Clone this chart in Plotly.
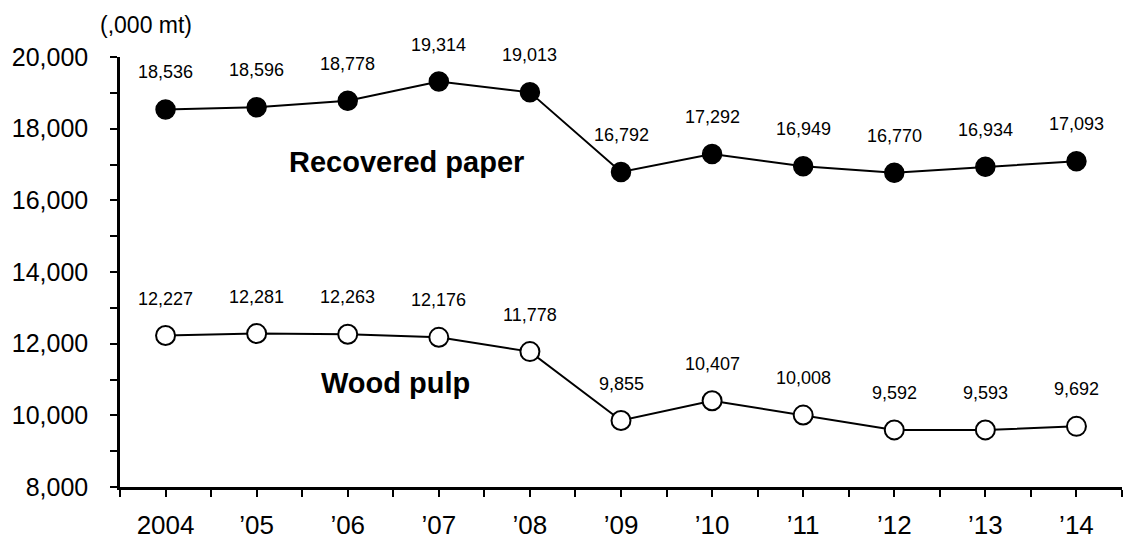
import plotly.graph_objects as go

years = ["2004", "\u201905", "\u201906", "\u201907", "\u201908", "\u201909", "\u201910", "\u201911", "\u201912", "\u201913", "\u201914"]
recovered_paper = [18536, 18596, 18778, 19314, 19013, 16792, 17292, 16949, 16770, 16934, 17093]
wood_pulp = [12227, 12281, 12263, 12176, 11778, 9855, 10407, 10008, 9592, 9593, 9692]
y_ticks = [8000, 10000, 12000, 14000, 16000, 18000, 20000]

FONT = "Liberation Sans, Arial, sans-serif"
xs = list(range(len(years)))

fig = go.Figure()
fig.add_trace(go.Scatter(
    x=xs, y=recovered_paper, mode="lines+markers",
    line=dict(color="black", width=2),
    marker=dict(size=19, color="black", line=dict(color="black", width=1.5)),
    name="Recovered paper", showlegend=False, hoverinfo="skip"))
fig.add_trace(go.Scatter(
    x=xs, y=wood_pulp, mode="lines+markers",
    line=dict(color="black", width=2),
    marker=dict(size=19, color="white", line=dict(color="black", width=2)),
    name="Wood pulp", showlegend=False, hoverinfo="skip"))

annotations = []
for series in (recovered_paper, wood_pulp):
    for i, v in enumerate(series):
        annotations.append(dict(
            x=xs[i], y=v, xref="x", yref="y", text=f"{v:,}", showarrow=False,
            yshift=37, font=dict(family=FONT, size=18, color="black"),
            xanchor="center", yanchor="middle"))

annotations.append(dict(x=2.64, y=17070, xref="x", yref="y", text="<b>Recovered paper</b>",
                        showarrow=False, font=dict(family=FONT, size=29, color="black"),
                        xanchor="center", yanchor="middle"))
annotations.append(dict(x=2.52, y=10900, xref="x", yref="y", text="<b>Wood pulp</b>",
                        showarrow=False, font=dict(family=FONT, size=29, color="black"),
                        xanchor="center", yanchor="middle"))
annotations.append(dict(x=-0.0217, y=1.0744, xref="paper", yref="paper", text="(,000 mt)",
                        showarrow=False, font=dict(family=FONT, size=23, color="black"),
                        xanchor="left", yanchor="middle"))

fig.update_layout(
    template="none",
    width=1136, height=546,
    margin=dict(l=120, r=14, t=57, b=59, pad=0),
    paper_bgcolor="white", plot_bgcolor="white",
    font=dict(family=FONT, color="black"),
    annotations=annotations,
    xaxis=dict(
        range=[-0.5, 10.5], tickvals=xs, ticktext=years, automargin=False,
        showgrid=False, zeroline=False, showline=True, linecolor="black", linewidth=2.5,
        ticks="outside", ticklen=7, tickwidth=2, tickcolor="black",
        minor=dict(ticks="outside", dtick=0.5, tick0=-0.5, ticklen=7, tickwidth=2, tickcolor="black", showgrid=False),
        tickfont=dict(family=FONT, size=26, color="black"), ticklabelstandoff=6),
    yaxis=dict(
        range=[8000, 20000], tickvals=y_ticks, ticktext=[f"{t:,}" for t in y_ticks], automargin=False,
        showgrid=False, zeroline=False, showline=True, linecolor="black", linewidth=2.5,
        ticks="outside", ticklen=7, tickwidth=2, tickcolor="black",
        minor=dict(ticks="outside", dtick=1000, tick0=8000, ticklen=7, tickwidth=2, tickcolor="black", showgrid=False),
        tickfont=dict(family=FONT, size=25, color="black"), ticklabelstandoff=17),
)

fig.write_html("out.html", config={"displayModeBar": False},
               post_script="document.body.style.margin='0';document.body.style.overflow='hidden';")
